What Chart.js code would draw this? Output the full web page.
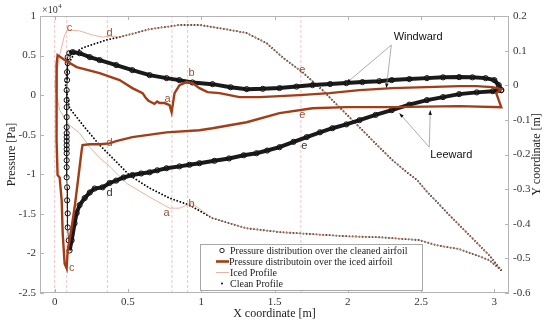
<!DOCTYPE html>
<html>
<head>
<meta charset="utf-8">
<script src="https://cdn.jsdelivr.net/npm/chart.js@4.4.0/dist/chart.umd.min.js"></script>
<style>
html,body{margin:0;padding:0;background:#fff;}
#wrap{width:550px;height:325px;}
</style>
</head>
<body>
<div id="wrap"><canvas id="myChart"></canvas></div>
<script>
// tick labels
const xTicks = [0, 0.5, 1, 1.5, 2, 2.5, 3]
const pTicks = [-25000, -20000, -15000, -10000, -5000, 0, 5000, 10000]
const yTicks = [-0.6, -0.5, -0.4, -0.3, -0.2, -0.1, 0, 0.1, 0.2]

// pressure over the cleaned airfoil (x [m], p [Pa]) : upper branch, leading edge, lower branch
const cleanX = [3.047, 3.03, 3.00, 2.94, 2.85, 2.76, 2.65, 2.54, 2.42, 2.30, 2.215, 2.10, 1.99, 1.88, 1.76, 1.65, 1.534, 1.42, 1.31, 1.20, 1.077, 0.94, 0.85, 0.763, 0.648, 0.53, 0.42, 0.307, 0.24, 0.17, 0.123, 0.10,
  0.089, 0.089, 0.085, 0.085, 0.082, 0.082, 0.082, 0.082, 0.082, 0.082, 0.082, 0.082, 0.082, 0.082, 0.082, 0.082, 0.082, 0.082, 0.085, 0.085, 0.089, 0.089, 0.096, 0.102,
  0.116, 0.136, 0.15, 0.17, 0.205, 0.24, 0.273, 0.327, 0.375, 0.42, 0.47, 0.53, 0.59, 0.648, 0.70, 0.763, 0.852, 0.92, 0.988, 1.09, 1.19, 1.29, 1.377, 1.45, 1.534, 1.63, 1.72, 1.81, 1.895, 1.99, 2.08, 2.19, 2.30, 2.42, 2.54, 2.65, 2.76, 2.88, 2.99, 3.047]
const cleanP = [630, 1270, 1900, 2150, 2250, 2280, 2250, 2150, 2030, 1900, 1770, 1650, 1520, 1400, 1270, 1080, 890, 800, 760, 1000, 1390, 1600, 1900, 2150, 2530, 3160, 3800, 4430, 4800, 5300, 5440, 5300,
  4800, 4050, 2910, 1900, 630, -630, -1520, -2780, -4050, -4800, -5300, -5800, -6330, -6840, -7340, -8230, -9110, -10380, -11650, -13290, -14940, -16710, -18350, -19620,
  -18350, -16200, -14900, -13900, -13000, -12300, -11800, -11650, -11100, -10800, -10400, -10100, -9900, -9750, -9500, -9240, -9000, -8800, -8600, -8300, -8000, -7600, -7340, -7000, -6580, -5900, -5300, -4700, -4180, -3700, -3160, -2500, -1900, -1200, -630, -250, 130, 350, 500, 630]

// pressure over the iced airfoil (x [m], p [Pa])
const icedX = [2.986, 2.877, 2.761, 2.536, 2.304, 2.08, 1.875, 1.67, 1.534, 1.397, 1.261, 1.125, 1.043, 0.988, 0.941, 0.90, 0.852, 0.818, 0.798, 0.784, 0.75, 0.716, 0.70, 0.68, 0.66, 0.64, 0.62, 0.60, 0.53, 0.443, 0.307, 0.15, 0.068, 0.02,
  0.014, 0.012, 0.014, 0.02, 0.034, 0.048, 0.055, 0.068, 0.082, 0.089, 0.116, 0.136, 0.157, 0.184, 0.19, 0.24, 0.307, 0.375, 0.42, 0.53, 0.763, 0.988, 1.077, 1.31, 1.534, 1.76, 1.99, 2.304, 2.761, 3.047, 3.013, 3.047, 2.986]
const icedP = [1010, 1140, 1140, 1010, 890, 630, 250, 0, -130, -250, -250, 250, 380, 890, 1520, 1650, 1270, 250, -2150, -1270, -1000, -1000, -800, -1100, -900, -700, -300, 250, 890, 1900, 2780, 3540, 4430, 5060,
  4000, -630, -5700, -10100, -10400, -13300, -17500, -21300, -21900, -19600, -16700, -14200, -11100, -7000, -6300, -6200, -6200, -6100, -5800, -5300, -4700, -4430, -4180, -3420, -2280, -1650, -1520, -1520, -1390, -1520, 250, 760, 1010]

// iced profile (x [m], y [m])
const icedProfX = [3.047, 2.965, 2.883, 2.808, 2.747, 2.679, 2.611, 2.543, 2.474, 2.40, 2.304, 2.215, 2.079, 1.963, 1.827, 1.69, 1.554, 1.445, 1.309, 1.125, 0.988, 0.852, 0.648, 0.443,
  0.375, 0.327, 0.259, 0.17, 0.089, 0.068, 0.034, 0.0, 0.034, 0.10, 0.17, 0.24, 0.307, 0.375, 0.49, 0.648, 0.784, 0.852, 0.934,
  1.077, 1.309, 1.534, 1.759, 1.99, 2.215, 2.488, 2.604, 2.76, 2.877, 2.965, 3.047]
const icedProfY = [-0.534, -0.491, -0.456, -0.424, -0.398, -0.369, -0.338, -0.309, -0.274, -0.25, -0.216, -0.179, -0.121, -0.072, -0.014, 0.038, 0.081, 0.122, 0.151, 0.165, 0.174, 0.174, 0.162, 0.139,
  0.142, 0.139, 0.145, 0.157, 0.16, 0.145, 0.087, 0.0, -0.072, -0.115, -0.138, -0.179, -0.21, -0.234, -0.283, -0.323, -0.355, -0.355, -0.34,
  -0.384, -0.413, -0.424, -0.43, -0.436, -0.439, -0.447, -0.462, -0.473, -0.491, -0.505, -0.534]

// clean profile (x [m], y [m])
const cleanProfX = [0.075, 0.089, 0.136, 0.19, 0.354, 0.443, 0.648, 0.852, 0.988, 1.125, 1.309, 1.445, 1.554, 1.69, 1.827, 1.963, 2.079, 2.215, 2.304, 2.40, 2.474, 2.543, 2.611, 2.679, 2.747, 2.808, 2.883, 2.965, 3.047,
  2.965, 2.877, 2.76, 2.604, 2.488, 2.215, 1.99, 1.759, 1.534, 1.309, 1.077, 0.92, 0.784, 0.648, 0.511, 0.395, 0.307, 0.204, 0.102, 0.075]
const cleanProfY = [0.0, 0.058, 0.093, 0.108, 0.131, 0.139, 0.162, 0.174, 0.174, 0.165, 0.151, 0.122, 0.081, 0.038, -0.014, -0.072, -0.121, -0.179, -0.216, -0.25, -0.274, -0.309, -0.338, -0.369, -0.398, -0.424, -0.456, -0.491, -0.534,
  -0.505, -0.491, -0.473, -0.462, -0.447, -0.439, -0.436, -0.43, -0.424, -0.413, -0.384, -0.346, -0.326, -0.297, -0.26, -0.21, -0.173, -0.121, -0.066, 0.0]

// dashed section lines
const guideX = [0, 0.082, 0.36, 0.80, 0.907, 1.68]

// section letters (x [m], p [Pa])
const markText = ['c', 'd', 'b', 'a', 'd', 'e', 'e', 'e', 'd', 'a', 'b', 'c']
const markX = [0.102, 0.375, 0.934, 0.77, 0.375, 1.69, 1.69, 1.704, 0.375, 0.763, 0.934, 0.116]
const markP = [8480, 7850, 2780, -500, -6100, 3160, -2530, -6460, -12300, -14900, -13700, -21800]

// side notes with their arrows
const noteText = ['Windward', 'Leeward']
const noteX = [2.48, 2.706]
const noteP = [7340, -7600]
const arrowFromX = [2.297, 2.297, 2.556, 2.556]
const arrowFromP = [6330, 6330, -6580, -6580]
const arrowToX = [1.99, 2.263, 2.352, 2.563]
const arrowToP = [1520, 890, -2280, -1900]

const serif = 'Liberation Serif'
const gris = '#b4b4b4'

function pares(xs, ys){
    let arr = []
    for (let i = 0; i < xs.length; i++) {
        arr.push({x: xs[i], y: ys[i]})
    }
    return arr
}

const guias = guideX.map(g => ({
    label: '',
    data: [{x: g, y: pTicks[0]}, {x: g, y: pTicks[pTicks.length - 1]}],
    yAxisID: 'y',
    showLine: true,
    borderColor: '#f0b4b4',
    borderWidth: 0.8,
    borderDash: [3, 2],
    pointRadius: 0
}))

const decor = {
    id: 'decor',
    afterDraw(chart){
        const {ctx, chartArea: a, scales} = chart
        const sx = scales.x, sp = scales.y, sy = scales.y2
        ctx.save()

        // caja y marcas hacia dentro
        ctx.strokeStyle = gris
        ctx.lineWidth = 1
        ctx.strokeRect(a.left + 0.5, a.top + 0.5, a.right - a.left - 1, a.bottom - a.top - 1)
        ctx.beginPath()
        sx.ticks.forEach(t => {
            const px = Math.round(sx.getPixelForValue(t.value)) + 0.5
            ctx.moveTo(px, a.bottom); ctx.lineTo(px, a.bottom - 4)
            ctx.moveTo(px, a.top); ctx.lineTo(px, a.top + 4)
        })
        sp.ticks.forEach(t => {
            const py = Math.round(sp.getPixelForValue(t.value)) + 0.5
            ctx.moveTo(a.left, py); ctx.lineTo(a.left + 4, py)
        })
        sy.ticks.forEach(t => {
            const py = Math.round(sy.getPixelForValue(t.value)) + 0.5
            ctx.moveTo(a.right, py); ctx.lineTo(a.right - 4, py)
        })
        ctx.stroke()

        // x10^4
        ctx.fillStyle = '#333'
        ctx.textBaseline = 'alphabetic'
        ctx.textAlign = 'left'
        ctx.font = '10px ' + serif
        ctx.fillText('\u00d710', a.left + 2, a.top - 3)
        const w = ctx.measureText('\u00d710').width
        ctx.font = '7px ' + serif
        ctx.fillText('4', a.left + 2 + w + 0.5, a.top - 8)

        // titulo eje derecho
        ctx.save()
        ctx.translate(537, (a.top + a.bottom) / 2)
        ctx.rotate(-Math.PI / 2)
        ctx.textAlign = 'center'
        ctx.textBaseline = 'middle'
        ctx.font = '12px ' + serif
        ctx.fillStyle = '#222'
        ctx.fillText('Y coordinate [m]', 0, 0)
        ctx.restore()

        // letras
        const oscuras = [7, 8]
        ctx.font = '11px Liberation Sans'
        ctx.textAlign = 'center'
        ctx.textBaseline = 'middle'
        markText.forEach((t, i) => {
            ctx.fillStyle = oscuras.includes(i) ? '#333' : '#9a5136'
            ctx.fillText(t, sx.getPixelForValue(markX[i]), sp.getPixelForValue(markP[i]))
        })

        // flechas
        ctx.strokeStyle = '#8a8a8a'
        ctx.fillStyle = '#111'
        ctx.lineWidth = 0.7
        for (let i = 0; i < arrowToX.length; i++) {
            const x0 = sx.getPixelForValue(arrowFromX[i]), y0 = sp.getPixelForValue(arrowFromP[i])
            const x1 = sx.getPixelForValue(arrowToX[i]), y1 = sp.getPixelForValue(arrowToP[i])
            ctx.beginPath(); ctx.moveTo(x0, y0); ctx.lineTo(x1, y1); ctx.stroke()
            const ang = Math.atan2(y1 - y0, x1 - x0)
            ctx.beginPath()
            ctx.moveTo(x1, y1)
            ctx.lineTo(x1 - 5 * Math.cos(ang - 0.35), y1 - 5 * Math.sin(ang - 0.35))
            ctx.lineTo(x1 - 5 * Math.cos(ang + 0.35), y1 - 5 * Math.sin(ang + 0.35))
            ctx.closePath(); ctx.fill()
        }
        ctx.font = '11px Liberation Sans'
        ctx.fillStyle = '#111'
        noteText.forEach((t, i) => {
            ctx.fillText(t, sx.getPixelForValue(noteX[i]), sp.getPixelForValue(noteP[i]))
        })

        // leyenda
        const ds = chart.data.datasets
        const orden = [1, 0, 2, 3]
        const bx = 200, by = 244, bw = 222, bh = 46
        ctx.fillStyle = '#fff'
        ctx.fillRect(bx, by, bw, bh)
        ctx.strokeStyle = '#a8a8a8'
        ctx.lineWidth = 1
        ctx.strokeRect(bx + 0.5, by + 0.5, bw, bh)
        ctx.font = '10px ' + serif
        ctx.textAlign = 'left'
        ctx.textBaseline = 'middle'
        orden.forEach((k, r) => {
            const yy = by + 6.5 + r * 11
            const d = ds[k]
            if (r === 0) {
                ctx.beginPath(); ctx.arc(222, yy, 2.2, 0, Math.PI * 2)
                ctx.strokeStyle = '#111'; ctx.lineWidth = 0.9; ctx.stroke()
            } else if (r === 3) {
                ctx.beginPath(); ctx.arc(222, yy, 1, 0, Math.PI * 2)
                ctx.fillStyle = '#111'; ctx.fill()
            } else {
                ctx.beginPath(); ctx.moveTo(216, yy); ctx.lineTo(229, yy)
                ctx.strokeStyle = d.borderColor; ctx.lineWidth = r === 1 ? 2.6 : 0.8; ctx.stroke()
            }
            ctx.fillStyle = '#222'
            ctx.fillText(d.label, r === 1 ? 229 : 230, yy + 0.5)
        })
        ctx.restore()
    }
}

const ctx = document.getElementById('myChart')

const sinRejilla = {display: false, drawTicks: false, tickLength: 0}

const mychart = new Chart(ctx, {
    type: 'scatter',
    data: {
        datasets: [{
            label: 'Pressure distributoin over the iced airfoil',
            data: pares(icedX, icedP),
            yAxisID: 'y',
            showLine: true,
            borderColor: '#a33d17',
            borderWidth: 2.4,
            pointRadius: 0
        },
        {
            label: 'Pressure distribution over the cleaned airfoil',
            data: pares(cleanX, cleanP),
            yAxisID: 'y',
            showLine: true,
            borderColor: '#1a1a1a',
            segment: {
                borderWidth: c => (c.p0.parsed.x < 0.11 && c.p1.parsed.x < 0.11) ? 0.8 : 4
            },
            pointRadius: 2.6,
            pointBorderWidth: 1,
            pointBorderColor: '#111',
            pointBackgroundColor: 'rgba(255,255,255,0)'
        },
        {
            label: 'Iced Profile',
            data: pares(icedProfX, icedProfY),
            yAxisID: 'y2',
            showLine: true,
            borderColor: '#e2a08c',
            borderWidth: 0.8,
            pointRadius: 0
        },
        {
            label: 'Clean Profile',
            data: pares(cleanProfX, cleanProfY),
            yAxisID: 'y2',
            showLine: true,
            borderColor: '#000',
            borderWidth: 1.8,
            borderCapStyle: 'round',
            borderDash: [0.1, 3.2],
            pointRadius: 0
        }, ...guias]
    },
    options: {
        responsive: true,
        maintainAspectRatio: false,
        animation: false,
        devicePixelRatio: 1,
        layout: {padding: {top: 16, left: 0, right: 0, bottom: 0}},
        plugins: {legend: {display: false}, tooltip: {enabled: false}},
        scales: {
            x: {
                type: 'linear', min: -0.1, max: 3.1,
                grid: sinRejilla, border: {display: false},
                afterBuildTicks: s => { s.ticks = xTicks.map(v => ({value: v})) },
                ticks: {padding: 3, color: '#333', font: {family: serif, size: 11}, maxRotation: 0, autoSkip: false, callback: v => String(v)},
                title: {display: true, text: 'X coordinate [m]', color: '#222', font: {family: serif, size: 12}, padding: {top: 0, bottom: 4}},
                afterFit: s => { s.height = 32 }
            },
            y: {
                type: 'linear', position: 'left', min: -25000, max: 10000,
                grid: sinRejilla, border: {display: false},
                afterBuildTicks: s => { s.ticks = pTicks.map(v => ({value: v})) },
                ticks: {padding: 4, color: '#333', font: {family: serif, size: 11}, autoSkip: false, callback: v => String(v / 10000)},
                title: {display: true, text: 'Pressure [Pa]', color: '#222', font: {family: serif, size: 12}, padding: {top: 5, bottom: 0}},
                afterFit: s => { s.width = 40 }
            },
            y2: {
                type: 'linear', position: 'right', min: -0.6, max: 0.2,
                grid: sinRejilla, border: {display: false},
                afterBuildTicks: s => { s.ticks = yTicks.map(v => ({value: v})) },
                ticks: {padding: 4, color: '#333', font: {family: serif, size: 11}, autoSkip: false, callback: v => String(v)},
                afterFit: s => { s.width = 41 }
            }
        }
    },
    plugins: [decor]
})
</script>
</body>
</html>
